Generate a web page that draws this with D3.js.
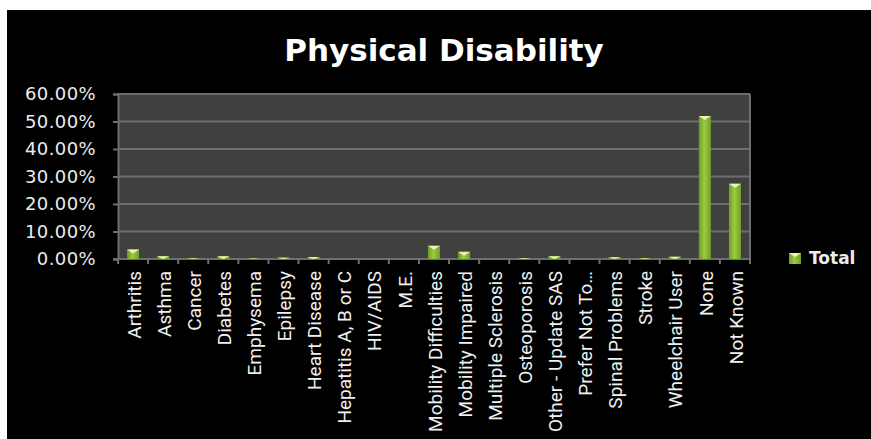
<!DOCTYPE html>
<html>
<head>
<meta charset="utf-8">
<script src="https://cdn.jsdelivr.net/npm/d3@7"></script>
<style>
  html, body { margin: 0; padding: 0; background: #fff; }
  svg { display: block; }
</style>
</head>
<body>
<script>
// data
var categories = ["Arthritis", "Asthma", "Cancer", "Diabetes", "Emphysema", "Epilepsy",
  "Heart Disease", "Hepatitis A, B or C", "HIV/AIDS", "M.E.", "Mobility Difficulties",
  "Mobility Impaired", "Multiple Sclerosis", "Osteoporosis", "Other - Update SAS",
  "Prefer Not To\u2026", "Spinal Problems", "Stroke", "Wheelchair User", "None", "Not Known"];
var totals = [0.035, 0.010, 0.003, 0.010, 0.002, 0.005, 0.007, 0, 0, 0, 0.048,
  0.026, 0, 0.003, 0.010, 0, 0.006, 0.003, 0.008, 0.520, 0.274];
var yTicks = [0, 0.1, 0.2, 0.3, 0.4, 0.5, 0.6];
var seriesName = "Total";
var title = "Physical Disability";

var W = 871, H = 439;
var PLOT_L = 118, PLOT_R = 750, PLOT_T = 94, PLOT_B = 259;
var GRID_COLOR = "#6e6e6e";

var svg = d3.select("body").append("svg")
  .attr("width", W)
  .attr("height", H);

// white edge at top/left, rest black
svg.append("rect").attr("x", 0).attr("y", 0).attr("width", W).attr("height", H).attr("fill", "#fff");
svg.append("rect").attr("x", 7).attr("y", 10).attr("width", W - 7).attr("height", H - 10).attr("fill", "#000");

var defs = svg.append("defs");
var grad = defs.append("linearGradient").attr("id", "barGrad")
  .attr("x1", "0%").attr("x2", "100%").attr("y1", "0%").attr("y2", "0%");
grad.append("stop").attr("offset", "0%").attr("stop-color", "#6f9a25");
grad.append("stop").attr("offset", "45%").attr("stop-color", "#9ccb45");
grad.append("stop").attr("offset", "100%").attr("stop-color", "#729f28");

var x = d3.scaleBand()
  .domain(categories)
  .range([PLOT_L, PLOT_R])
  .paddingInner(0.6)
  .paddingOuter(0.3);

var y = d3.scaleLinear()
  .domain([0, 0.6])
  .range([PLOT_B, PLOT_T]);

// plot background
svg.append("rect")
  .attr("x", PLOT_L).attr("y", PLOT_T)
  .attr("width", PLOT_R - PLOT_L).attr("height", PLOT_B - PLOT_T)
  .attr("fill", "#404040");

// gridlines
svg.append("g").selectAll("line")
  .data(yTicks.filter(function(d) { return d > 0; }))
  .enter().append("line")
  .attr("x1", PLOT_L).attr("x2", PLOT_R)
  .attr("y1", function(d) { return y(d); })
  .attr("y2", function(d) { return y(d); })
  .attr("stroke", GRID_COLOR)
  .attr("stroke-width", 2);

// right border
svg.append("line")
  .attr("x1", PLOT_R).attr("x2", PLOT_R).attr("y1", PLOT_T).attr("y2", PLOT_B)
  .attr("stroke", GRID_COLOR).attr("stroke-width", 2);

// y axis
var yAxis = svg.append("g")
  .attr("transform", "translate(" + PLOT_L + ",0)")
  .call(d3.axisLeft(y).tickValues(yTicks).tickSize(5).tickPadding(17)
    .tickFormat(function(d) { return (d * 100).toFixed(2) + "%"; }));
yAxis.select(".domain").attr("stroke", GRID_COLOR).attr("stroke-width", 2);
yAxis.selectAll(".tick line").attr("stroke", GRID_COLOR).attr("stroke-width", 2);
yAxis.selectAll(".tick text")
  .attr("fill", "#ececec")
  .style("font-family", "DejaVu Sans")
  .style("font-size", "18px")
  .style("letter-spacing", "0.4px");

// x axis line + ticks at band boundaries
var xAxisG = svg.append("g");
xAxisG.append("line")
  .attr("x1", PLOT_L - 5).attr("x2", PLOT_R)
  .attr("y1", PLOT_B).attr("y2", PLOT_B)
  .attr("stroke", GRID_COLOR).attr("stroke-width", 2);
var bounds = d3.range(categories.length + 1).map(function(i) {
  return PLOT_L + (PLOT_R - PLOT_L) * i / categories.length;
});
xAxisG.selectAll(".xt")
  .data(bounds)
  .enter().append("line")
  .attr("class", "xt")
  .attr("x1", function(d) { return d; }).attr("x2", function(d) { return d; })
  .attr("y1", PLOT_B).attr("y2", PLOT_B + 5)
  .attr("stroke", GRID_COLOR).attr("stroke-width", 2);

xAxisG.selectAll(".xl")
  .data(categories)
  .enter().append("text")
  .attr("class", "xl")
  .attr("transform", function(d) {
    return "translate(" + (x(d) + x.bandwidth() / 2 + 1) + "," + (PLOT_B + 12) + ") rotate(-90)";
  })
  .attr("dy", "0.35em")
  .attr("text-anchor", "end")
  .attr("fill", "#f0f0f0")
  .style("font-family", "Roboto")
  .style("font-size", "19px")
  .text(function(d) { return d; });

// bars
var barData = categories.map(function(c, i) { return { cat: c, v: totals[i] }; });
var bars = svg.append("g");
bars.selectAll(".bar")
  .data(barData)
  .enter().append("rect")
  .attr("class", "bar")
  .attr("x", function(d) { return x(d.cat); })
  .attr("y", function(d) { return y(d.v); })
  .attr("width", x.bandwidth())
  .attr("height", function(d) { return PLOT_B - y(d.v); })
  .attr("fill", "url(#barGrad)");

// light cap on top of each bar
bars.selectAll(".cap")
  .data(barData.filter(function(d) { return d.v > 0; }))
  .enter().append("path")
  .attr("class", "cap")
  .attr("d", function(d) {
    var x0 = x(d.cat), w = x.bandwidth(), t = y(d.v);
    var h = Math.min(4, PLOT_B - t);
    return "M" + x0 + "," + t + "L" + (x0 + w) + "," + t + "L" + (x0 + w / 2) + "," + (t + h) + "Z";
  })
  .attr("fill", "#e4f5b4");

// title
svg.append("text")
  .attr("x", 444).attr("y", 61)
  .attr("text-anchor", "middle")
  .attr("fill", "#fff")
  .style("font-family", "DejaVu Sans")
  .style("font-weight", "bold")
  .style("font-size", "31px")
  .text(title);

// legend
var lg = svg.append("g").attr("transform", "translate(789,253)");
lg.append("rect").attr("width", 12).attr("height", 11).attr("fill", "url(#barGrad)");
lg.append("path").attr("d", "M0,0L12,0L6,4Z").attr("fill", "#e4f5b4");
lg.append("text")
  .attr("x", 20).attr("y", 11)
  .attr("fill", "#ececec")
  .style("font-family", "DejaVu Sans")
  .style("font-weight", "bold")
  .style("font-size", "17px")
  .text(seriesName);
</script>
</body>
</html>
